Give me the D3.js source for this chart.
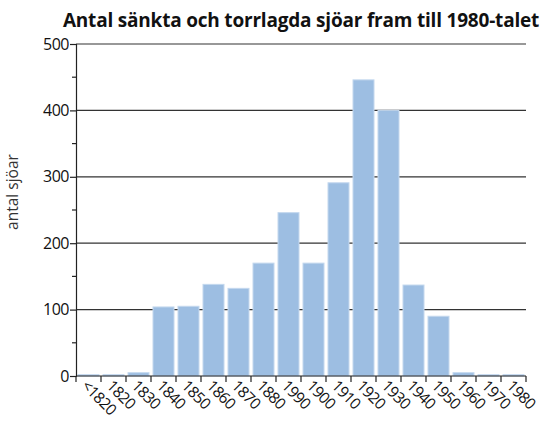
<!DOCTYPE html>
<html>
<head>
<meta charset="utf-8">
<script src="https://cdn.jsdelivr.net/npm/d3@7"></script>
<style>
  body { margin: 0; background: #fff; overflow: hidden; }
  svg { display: block; }
  text { font-family: "Open Sans", "Noto Sans", sans-serif; fill: #111; }
</style>
</head>
<body>
<svg id="chart"></svg>
<script>
// data
const decades = ['<1820', '1820', '1830', '1840', '1850', '1860', '1870', '1880', '1990',
  '1900', '1910', '1920', '1930', '1940', '1950', '1960', '1970', '1980'];
const lakes = [2, 2, 5, 104, 105, 138, 132, 170, 246, 170, 291, 446, 400, 137, 90, 5, 2, 2];
const yTicks = [0, 100, 200, 300, 400, 500];
const yMinor = [50, 150, 250, 350, 450];

const width = 555;
const height = 421;
const margin = { top: 44, right: 29, bottom: 45, left: 76 };
const innerWidth = width - margin.left - margin.right;
const innerHeight = height - margin.top - margin.bottom;

const svg = d3.select('#chart')
  .attr('width', width)
  .attr('height', height);

const g = svg.append('g')
  .attr('transform', `translate(${margin.left}, ${margin.top})`);

// scales
const xScale = d3.scaleBand()
  .domain(decades)
  .range([0, innerWidth])
  .paddingInner(0.16)
  .paddingOuter(0.08);

const yScale = d3.scaleLinear()
  .domain([0, 500])
  .range([innerHeight, 0]);

// gridlines
g.selectAll('.grid')
  .data(yTicks.slice(1))
  .enter()
  .append('line')
  .attr('x1', 0)
  .attr('x2', innerWidth)
  .attr('y1', d => yScale(d))
  .attr('y2', d => yScale(d))
  .attr('stroke', '#333')
  .attr('stroke-width', 1.2);

// bars
g.selectAll('.bar')
  .data(lakes)
  .enter()
  .append('rect')
  .attr('x', (d, i) => xScale(decades[i]))
  .attr('width', xScale.bandwidth())
  .attr('y', d => yScale(d))
  .attr('height', d => innerHeight - yScale(d))
  .attr('fill', '#9dbee2')
  .attr('stroke', '#c4d8ee')
  .attr('stroke-width', 1);

// y axis
const yAxis = g.append('g')
  .call(d3.axisLeft(yScale).tickValues(yTicks).tickSize(6).tickPadding(1));
yAxis.select('.domain').attr('stroke', '#222').attr('stroke-width', 1.2);
yAxis.selectAll('line').attr('stroke', '#222').attr('stroke-width', 1.2);
yAxis.selectAll('text')
  .style('font-size', '16px')
  .style('letter-spacing', '-0.5px')
  .style('fill', '#111');

g.selectAll('.minor')
  .data(yMinor)
  .enter()
  .append('line')
  .attr('x1', -4)
  .attr('x2', 0)
  .attr('y1', d => yScale(d))
  .attr('y2', d => yScale(d))
  .attr('stroke', '#222')
  .attr('stroke-width', 1.2);

// x axis, ticks sit on the band edges
const xAxis = g.append('g')
  .attr('transform', `translate(0, ${innerHeight})`);
xAxis.append('line')
  .attr('x1', 0)
  .attr('x2', innerWidth)
  .attr('stroke', '#222')
  .attr('stroke-width', 1.2);

const edges = d3.range(decades.length + 1).map(i => i * innerWidth / decades.length);
xAxis.selectAll('.xtick')
  .data(edges)
  .enter()
  .append('line')
  .attr('x1', d => d)
  .attr('x2', d => d)
  .attr('y1', 0)
  .attr('y2', 6)
  .attr('stroke', '#222')
  .attr('stroke-width', 1.2);

xAxis.selectAll('.xlabel')
  .data(decades)
  .enter()
  .append('text')
  .attr('transform', d => `translate(${xScale(d) + xScale.bandwidth() / 2 - 4}, 7) rotate(45)`)
  .attr('dy', '0.35em')
  .style('font-size', '15.5px')
  .style('letter-spacing', '-0.6px')
  .text(d => d);

// y label
svg.append('text')
  .attr('transform', `translate(18, 192) rotate(-90)`)
  .attr('text-anchor', 'middle')
  .style('font-size', '15.5px')
  .style('fill', '#333')
  .text('antal sjöar');

// title
svg.append('text')
  .attr('x', 301)
  .attr('y', 27)
  .attr('text-anchor', 'middle')
  .style('font-size', '19px')
  .style('font-weight', 'bold')
  .style('letter-spacing', '-0.2px')
  .text('Antal sänkta och torrlagda sjöar fram till 1980-talet');
</script>
</body>
</html>
